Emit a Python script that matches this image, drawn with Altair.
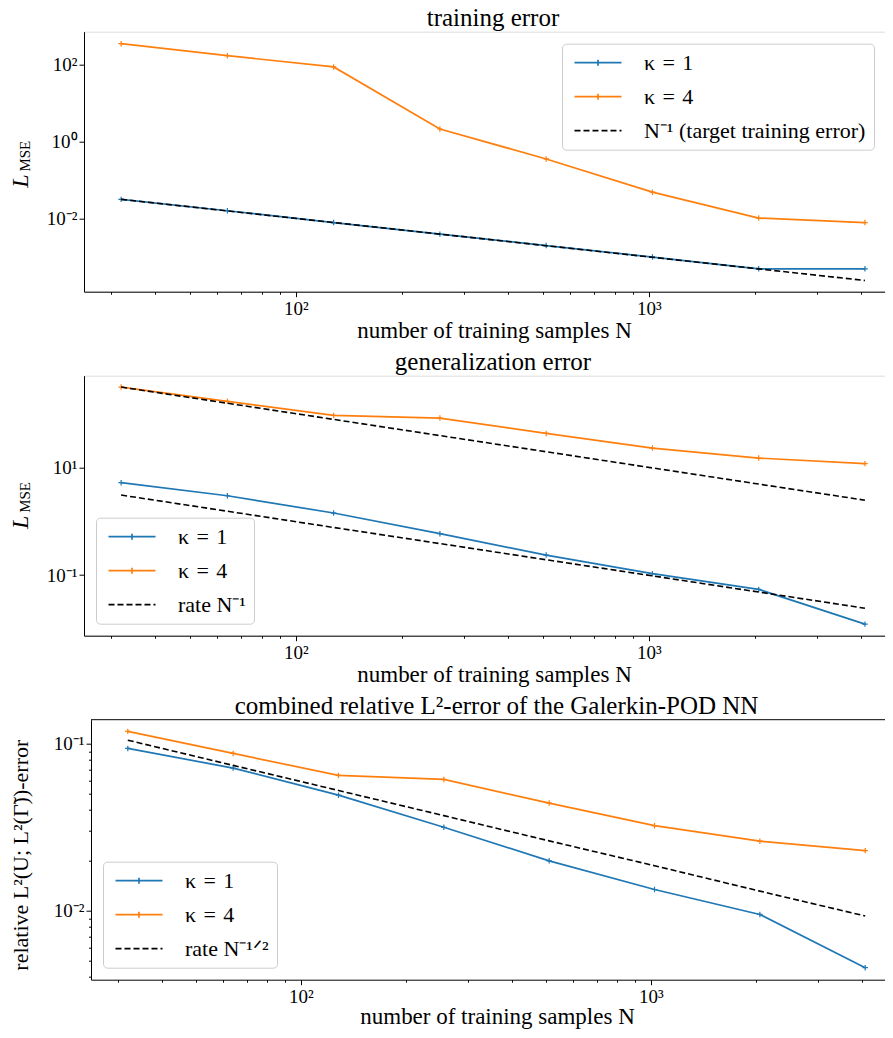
import altair as alt
import pandas as pd

# ---------------- data ----------------
N = [32, 64, 128, 256, 512, 1024, 2048, 4096]

# training error
train_k1 = [0.0312, 0.0158, 0.0078, 0.0039, 0.00197, 0.00099, 0.00049, 0.00049]
train_k4 = [345, 168, 86, 2.1, 0.35, 0.048, 0.0102, 0.0078]
train_ref = [0.03125, 0.015625, 0.0078125, 0.00390625, 0.001953, 0.000977, 0.000488, 0.000244]

# generalization error
gen_k1 = [5.26, 3.0, 1.43, 0.59, 0.236, 0.106, 0.054, 0.0122]
gen_k4 = [317, 172, 94, 84, 43.5, 23.2, 15.1, 11.9]
gen_rate_k4 = [317, 158.5, 79.2, 39.6, 19.8, 9.9, 4.95, 2.48]
gen_rate_k1 = [3.09, 1.545, 0.77, 0.386, 0.193, 0.0966, 0.0483, 0.0241]

# combined relative L2 error
comb_k1 = [0.0937, 0.0715, 0.0492, 0.0316, 0.0199, 0.0134, 0.0095, 0.00456]
comb_k4 = [0.1186, 0.0875, 0.0646, 0.0611, 0.0441, 0.0323, 0.0261, 0.0229]
comb_rate = [0.105, 0.0742, 0.0525, 0.0371, 0.0262, 0.0186, 0.0131, 0.0093]

K1 = "κ\u2004=\u20041"
K4 = "κ\u2004=\u20044"
REF1 = "N⁻¹ (target training error)"
REF2 = "rate N⁻¹"
REF3 = "rate N⁻¹ᐟ²"

TITLES = ["training error", "generalization error",
          "combined relative L²-error of the Galerkin-POD NN"]
X_TITLE = "number of training samples N"
Y3_TITLE = "relative L²(U; L²(Γ̃))-error"

X_TICKS = [30, 40, 50, 60, 70, 80, 90, 100, 200, 300, 400, 500, 600, 700, 800, 900,
           1000, 2000, 3000, 4000]
Y3_TICKS = [0.004, 0.005, 0.006, 0.007, 0.008, 0.009, 0.01, 0.02, 0.03, 0.04, 0.05,
            0.06, 0.07, 0.08, 0.09, 0.1]

# ---------------- styling ----------------
BLUE = "#1f77b4"
ORANGE = "#ff7f0e"
FONT = "Liberation Serif"
PLUS = "M-1,0H1M0,-1V1"
LEG_LINE_PLUS = "M-4.7,0H4.7M0,-0.6V0.6"
LEG_LINE = "M-4.7,0H4.7"
X_DOMAIN = [25.12, 4950]
W, H = 810, 260

MAJOR = "abs(log(datum.value)/LN10 - round(log(datum.value)/LN10)) < 0.001"
EXP = "round(log(datum.value)/LN10)"
SUP = {-3: "⁻³", -2: "⁻²", -1: "⁻¹", 0: "⁰", 1: "¹", 2: "²", 3: "³"}


def label_expr():
    s = "''"
    for e, t in SUP.items():
        s = f"{EXP}=={e} ? '10{t}' : " + s
    return f"{MAJOR} ? ({s}) : ''"


TICK_SIZE = {"condition": {"test": MAJOR, "value": 5}, "value": 2.5}


def long(series_list):
    rows = []
    for name, vals, lid in series_list:
        for n, v in zip(N, vals):
            rows.append({"N": n, "value": v, "series": name, "line_id": lid})
    return pd.DataFrame(rows)


def text_layer(txt, x, y, size, angle=0, italic=False):
    kw = dict(text=txt, font=FONT, fontSize=size, align="center",
              baseline="alphabetic", color="black")
    if angle:
        kw["angle"] = angle
    if italic:
        kw["fontStyle"] = "italic"
    return alt.Chart(alt.Data(values=[{}])).mark_text(**kw).encode(
        x=alt.value(x), y=alt.value(y))


def panel(title, title_x, kap, rates, rate_name, ydomain, yvals, legend_xy,
          ytitle=None, lmse=None, xrange=None, yoffset=0, xtitle_x=410, xtitle_y=46):
    dom = [K1, K4, rate_name]
    if xrange is not None:
        xscale = alt.Scale(type="log", domain=X_DOMAIN, nice=False, range=xrange)
    else:
        xscale = alt.Scale(type="log", domain=X_DOMAIN, nice=False)
    xaxis = alt.Axis(values=X_TICKS, labelExpr=label_expr(), tickSize=TICK_SIZE,
                     grid=False, labelFont=FONT, labelFontSize=19, labelColor="black",
                     labelBaseline="alphabetic", labelPadding=18, labelOverlap=False,
                     labelFlush=False, domainColor="black", tickColor="black",
                     title=X_TITLE, titleFont=FONT,
                     titleFontSize=23, titleFontWeight="normal", titleColor="black",
                     titleX=xtitle_x, titleY=xtitle_y, titleBaseline="alphabetic",
                     titleAlign="center")
    yaxis_kw = dict(values=yvals, labelExpr=label_expr(), tickSize=TICK_SIZE, grid=False,
                    labelFont=FONT, labelFontSize=19, labelColor="black",
                    labelBaseline="middle", labelPadding=2, labelOverlap=False,
                    labelFlush=False, domainColor="black", tickColor="black",
                    offset=yoffset)
    if ytitle:
        yaxis_kw.update(title=ytitle, titleFont=FONT, titleFontSize=22,
                        titleFontWeight="normal", titleColor="black", titleAngle=270,
                        titleX=-64, titleY=135, titleBaseline="alphabetic",
                        titleAlign="center")
    else:
        yaxis_kw.update(title=None)
    yaxis = alt.Axis(**yaxis_kw)
    X = alt.X("N:Q", scale=xscale, axis=xaxis)
    Y = alt.Y("value:Q", scale=alt.Scale(type="log", domain=ydomain, nice=False),
              axis=yaxis)

    cscale = alt.Scale(domain=dom, range=[BLUE, ORANGE, "black"])
    dscale = alt.Scale(domain=dom, range=[[1, 0], [1, 0], [6, 3]])
    sscale = alt.Scale(domain=dom, range=[LEG_LINE_PLUS, LEG_LINE_PLUS, LEG_LINE])
    leg = alt.Legend(title=None, orient="none", legendX=legend_xy[0],
                     legendY=legend_xy[1], symbolSize=100, symbolStrokeWidth=1.7,
                     labelFont=FONT, labelFontSize=22, labelColor="black",
                     labelLimit=400,
                     fillColor="white", strokeColor="#cccccc", cornerRadius=4,
                     padding=8, rowPadding=12, symbolOffset=17, labelOffset=35)

    dk = long(kap)
    dr = long(rates)

    solid = alt.Chart(dk).mark_line(strokeWidth=1.7).encode(
        x=X, y=Y,
        color=alt.Color("series:N", scale=cscale, legend=leg),
        detail="line_id:N",
    )
    marks = alt.Chart(dk).mark_point(shape=PLUS, size=30, filled=False,
                                     strokeWidth=1.2, opacity=1).encode(
        x=X, y=Y,
        stroke=alt.Stroke("series:N", scale=alt.Scale(domain=[K1, K4],
                                                      range=[BLUE, ORANGE]),
                          legend=None),
    )
    dashed = alt.Chart(dr).mark_line(strokeWidth=1.6, color="black",
                                     strokeDash=[6, 3]).encode(
        x=X, y=Y, detail="line_id:N")
    legend_layer = alt.Chart(dk).transform_filter("false").mark_point(
        filled=False, opacity=1).encode(
        x=X, y=Y,
        color=alt.Color("series:N", scale=cscale, legend=leg),
        strokeDash=alt.StrokeDash("series:N", scale=dscale, legend=leg),
        shape=alt.Shape("series:N", scale=sscale, legend=leg),
    )
    layers = [solid, marks, dashed, legend_layer,
              text_layer(title, title_x, -5.5, 25)]
    if lmse is not None:
        layers.append(text_layer("L", -56, lmse[0], 24, angle=270, italic=True))
        layers.append(text_layer("MSE", -54, lmse[1], 15, angle=270))
    props = dict(width=W, height=H)
    if xrange is not None:
        layers.append(alt.Chart(alt.Data(values=[{}])).mark_rule(
            color="black", strokeWidth=1).encode(
            x=alt.value(xrange[0]), x2=alt.value(xrange[1]), y=alt.value(0)))
        props["view"] = alt.ViewBackground(stroke=None)
    return alt.layer(*layers).properties(**props).resolve_scale(
        stroke="independent")


p1 = panel(TITLES[0], W / 2 + 4,
           [(K1, train_k1, "a"), (K4, train_k4, "b")],
           [(REF1, train_ref, "r1")], REF1,
           [10 ** -3.904, 10 ** 2.849], [0.01, 1, 100], (478, 12),
           lmse=(149.5, 124.5))
p2 = panel(TITLES[1], W / 2 + 4,
           [(K1, gen_k1, "a"), (K4, gen_k4, "b")],
           [(REF2, gen_rate_k4, "r1"), (REF2, gen_rate_k1, "r2")], REF2,
           [10 ** -2.129, 10 ** 2.713], [0.1, 10], (12, 142),
           lmse=(146.7, 121.7))
p3 = panel(TITLES[2], W / 2 + 7.5,
           [(K1, comb_k1, "a"), (K4, comb_k4, "b")],
           [(REF3, comb_rate, "r1")], REF3,
           [10 ** -2.413, 10 ** -0.856], Y3_TICKS, (19, 142),
           ytitle=Y3_TITLE, xrange=[7, W], yoffset=-7, xtitle_x=413, xtitle_y=44)

chart = alt.vconcat(p1, p2, p3, spacing=84, bounds="flush").resolve_scale(
    color="independent", strokeDash="independent", shape="independent",
    x="independent", y="independent"
).resolve_legend(
    color="independent", strokeDash="independent", shape="independent"
).configure_view(stroke="black", strokeWidth=1).configure(
    padding={"left": 0, "top": -2.3, "right": -10, "bottom": 0}
)

chart.save("out.html", embed_options={"renderer": "svg", "actions": False})
